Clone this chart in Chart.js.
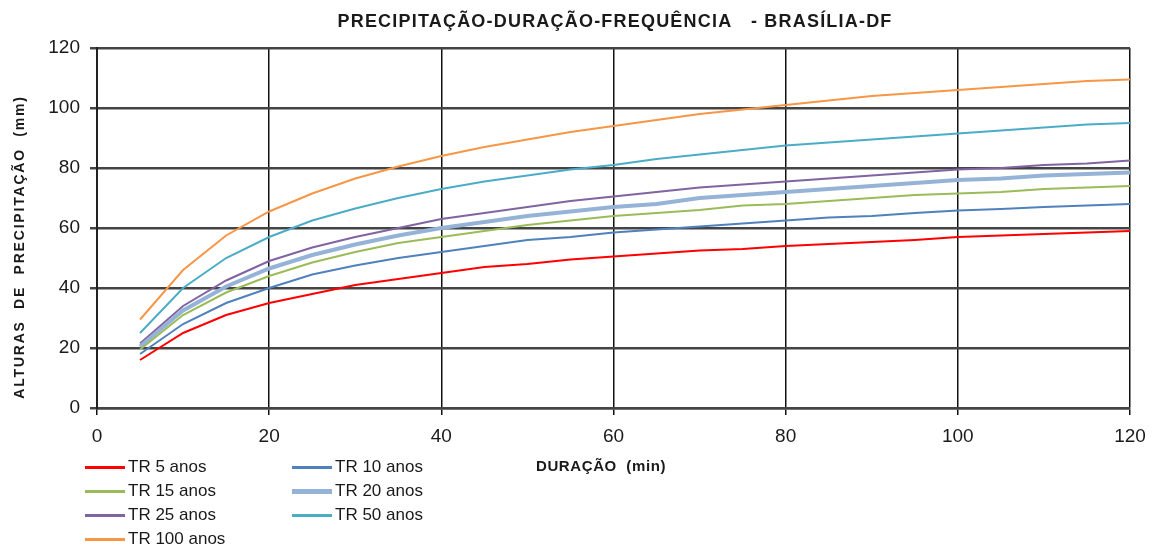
<!DOCTYPE html>
<html>
<head>
<meta charset="utf-8">
<script src="https://cdn.jsdelivr.net/npm/chart.js@4/dist/chart.umd.min.js"></script>
<style>
  body { margin: 0; background: #fff; }
  #wrap { position: relative; width: 1157px; height: 550px; }
  #legend { position: absolute; left: 85px; top: 456px; width: 420px;
            font-family: "Liberation Sans", Arial, sans-serif; font-size: 17px; color: #1a1a1a; }
  .item { position: absolute; height: 22px; line-height: 22px; white-space: nowrap; }
  .item span.sw { display: inline-block; width: 40px; vertical-align: middle; margin-right: 3px; }
</style>
</head>
<body>
<div id="wrap">
  <canvas id="chart" width="1157" height="550"></canvas>
  <div id="legend"></div>
</div>
<script>
// duration (min)
const duracao = [5, 10, 15, 20, 25, 30, 35, 40, 45, 50, 55, 60, 65, 70, 75, 80, 85, 90, 95, 100, 105, 110, 115, 120];

// heights (mm) per return period
const tr5   = [16, 25, 31, 35, 38, 41, 43, 45, 47, 48, 49.5, 50.5, 51.5, 52.5, 53, 54, 54.7, 55.3, 56, 57, 57.5, 58, 58.5, 59];
const tr10  = [18, 28, 35, 40, 44.5, 47.5, 50, 52, 54, 56, 57, 58.5, 59.5, 60.5, 61.5, 62.5, 63.5, 64, 65, 65.8, 66.3, 67, 67.5, 68];
const tr15  = [19.5, 31, 38.5, 44, 48.5, 52, 55, 57, 59, 61, 62.5, 64, 65, 66, 67.5, 68, 69, 70, 71, 71.5, 72, 73, 73.5, 74];
const tr20  = [20.5, 32.5, 40.5, 46.5, 51, 54.5, 57.5, 60, 62, 64, 65.5, 67, 68, 70, 71, 72, 73, 74, 75, 76, 76.5, 77.5, 78, 78.5];
const tr25  = [21.5, 34, 42.5, 49, 53.5, 57, 60, 63, 65, 67, 69, 70.5, 72, 73.5, 74.5, 75.5, 76.5, 77.5, 78.5, 79.5, 80, 81, 81.5, 82.5];
const tr50  = [25, 40, 50, 57, 62.5, 66.5, 70, 73, 75.5, 77.5, 79.5, 81, 83, 84.5, 86, 87.5, 88.5, 89.5, 90.5, 91.5, 92.5, 93.5, 94.5, 95];
const tr100 = [29.5, 46, 57.5, 65.5, 71.5, 76.5, 80.5, 84, 87, 89.5, 92, 94, 96, 98, 99.5, 101, 102.5, 104, 105, 106, 107, 108, 109, 109.5];

const labels = ['TR 5 anos', 'TR 10 anos', 'TR 15 anos', 'TR 20 anos', 'TR 25 anos', 'TR 50 anos', 'TR 100 anos'];
const series = [tr5, tr10, tr15, tr20, tr25, tr50, tr100];
const colors = ['#ff0000', '#4f81bd', '#9bbb59', '#95b3d7', '#8064a2', '#4bacc6', '#f79646'];
const widths = [2, 2, 2, 4, 2, 2, 2];

const FONT = '"Liberation Sans", Arial, sans-serif';

function pts(vals) {
    return vals.map((v, i) => ({ x: duracao[i], y: v }));
}

// title texts drawn on the canvas
const textPlugin = {
    id: 'texts',
    afterDraw(chart) {
        const ctx = chart.ctx;
        ctx.save();
        ctx.fillStyle = '#1a1a1a';
        ctx.textBaseline = 'middle';
        ctx.textAlign = 'center';
        ctx.letterSpacing = '1.2px';
        ctx.font = 'bold 18px ' + FONT;
        ctx.fillText('PRECIPITAÇÃO-DURAÇÃO-FREQUÊNCIA   - BRASÍLIA-DF', 615, 22);
        ctx.letterSpacing = '0.6px';
        ctx.font = 'bold 15px ' + FONT;
        ctx.fillText('DURAÇÃO  (min)', 601, 467);
        ctx.translate(20, 247);
        ctx.rotate(-Math.PI / 2);
        ctx.letterSpacing = '1.8px';
        ctx.font = 'bold 14px ' + FONT;
        ctx.fillText('ALTURAS  DE  PRECIPITAÇÃO  (mm)', 0, 0);
        ctx.restore();
    }
};

const chart = new Chart(document.getElementById('chart').getContext('2d'), {
    type: 'line',
    data: {
        datasets: series.map((s, i) => ({
            label: labels[i],
            data: pts(s),
            borderColor: colors[i],
            backgroundColor: colors[i],
            borderWidth: widths[i],
            pointRadius: 0,
            tension: 0,
            fill: false
        }))
    },
    options: {
        responsive: false,
        animation: false,
        layout: { padding: { top: 48, right: 27, left: 0, bottom: 0 } },
        plugins: {
            legend: { display: false },
            title: { display: false },
            tooltip: { enabled: false }
        },
        scales: {
            x: {
                type: 'linear',
                min: 0, max: 120,
                ticks: { stepSize: 20, color: '#1a1a1a', font: { family: FONT, size: 19 }, padding: 10 },
                grid: { color: '#111', lineWidth: 1.5, tickLength: 7, tickColor: '#111' },
                border: { color: '#444', width: 2.5 },
                afterFit(scale) { scale.height = 142; }
            },
            y: {
                min: 0, max: 120,
                ticks: { stepSize: 20, color: '#1a1a1a', font: { family: FONT, size: 19 }, padding: 10 },
                grid: { color: '#444', lineWidth: 2.5, tickLength: 7, tickColor: '#444' },
                border: { color: '#222', width: 2 },
                afterFit(scale) { scale.width = 97; }
            }
        }
    },
    plugins: [textPlugin]
});

// legend in two columns, like the original
const legend = document.getElementById('legend');
chart.data.datasets.forEach((ds, i) => {
    const el = document.createElement('div');
    el.className = 'item';
    el.style.left = (i % 2 === 0 ? 0 : 207) + 'px';
    el.style.top = (Math.floor(i / 2) * 24) + 'px';
    const sw = document.createElement('span');
    sw.className = 'sw';
    sw.style.borderTop = (ds.borderWidth + 1) + 'px solid ' + ds.borderColor;
    el.appendChild(sw);
    el.appendChild(document.createTextNode(ds.label));
    legend.appendChild(el);
});
</script>
</body>
</html>
